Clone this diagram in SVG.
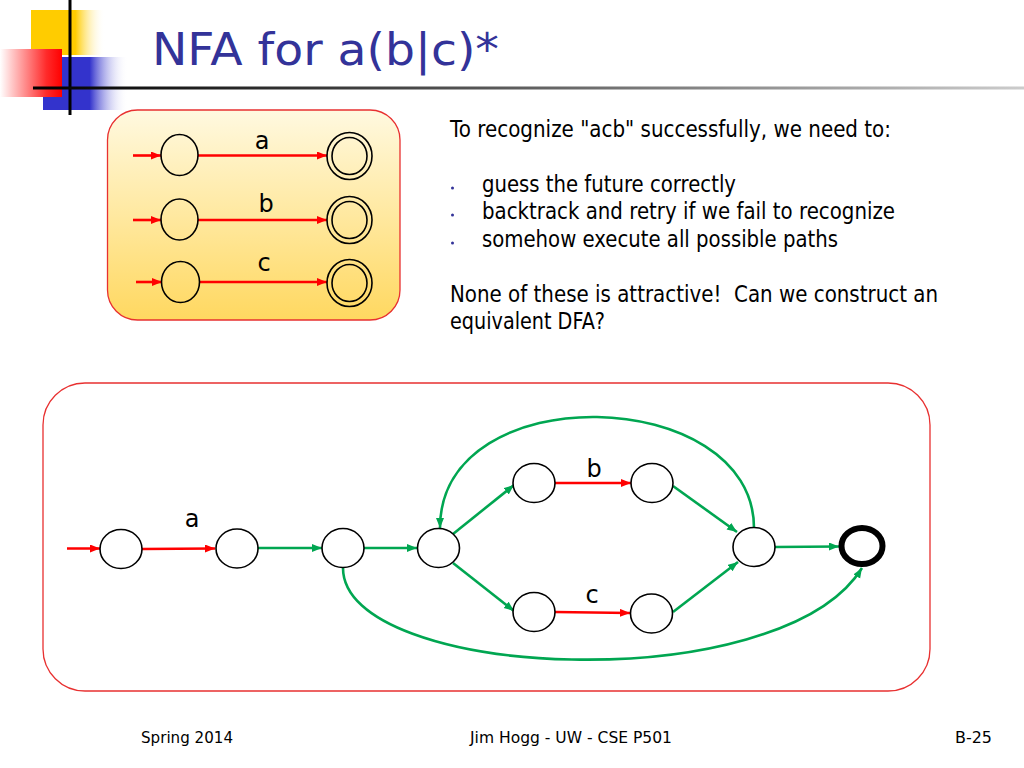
<svg xmlns="http://www.w3.org/2000/svg" width="1024" height="768" viewBox="0 0 1024 768">
<defs>
<linearGradient id="gYel" x1="31" y1="0" x2="105" y2="0" gradientUnits="userSpaceOnUse">
<stop offset="0" stop-color="#FFCC00"/><stop offset="0.6" stop-color="#FFCC00"/><stop offset="1" stop-color="#FFFFFF" stop-opacity="0"/>
</linearGradient>
<linearGradient id="gRed" x1="0" y1="0" x2="62" y2="0" gradientUnits="userSpaceOnUse">
<stop offset="0" stop-color="#FFFFFF"/><stop offset="0.75" stop-color="#FF2A2A"/><stop offset="1" stop-color="#FF0000"/>
</linearGradient>
<linearGradient id="gBlue" x1="43" y1="0" x2="128" y2="0" gradientUnits="userSpaceOnUse">
<stop offset="0" stop-color="#3333CC"/><stop offset="0.55" stop-color="#3333CC"/><stop offset="1" stop-color="#FFFFFF" stop-opacity="0"/>
</linearGradient>
<linearGradient id="gLine" x1="33" y1="0" x2="1024" y2="0" gradientUnits="userSpaceOnUse">
<stop offset="0" stop-color="#000000"/><stop offset="0.45" stop-color="#555555"/><stop offset="1" stop-color="#CCCCCC"/>
</linearGradient>
<linearGradient id="gBox" x1="0" y1="0" x2="0" y2="1">
<stop offset="0" stop-color="#FFF9E0"/><stop offset="1" stop-color="#FFD860"/>
</linearGradient>
<marker id="ar" markerUnits="userSpaceOnUse" markerWidth="11" markerHeight="9" refX="10" refY="4" orient="auto">
<path d="M0,0 L10,4 L0,8 z" fill="#FF0000"/>
</marker>
<marker id="ag" markerUnits="userSpaceOnUse" markerWidth="11" markerHeight="9" refX="10" refY="4" orient="auto">
<path d="M0,0 L10,4 L0,8 z" fill="#00A651"/>
</marker>
<style>
.st{fill:none;stroke:#000;stroke-width:1.6}
.stw{fill:#fff;stroke:#000;stroke-width:1.6}
.r{fill:none;stroke:#FF0000;stroke-width:2.6;marker-end:url(#ar)}
.g{fill:none;stroke:#00A651;stroke-width:2.6;marker-end:url(#ag)}
.lbl{font-family:"DejaVu Sans","Liberation Sans",sans-serif;font-size:24px;fill:#000;text-anchor:middle}
.body{font-family:"DejaVu Sans","Liberation Sans",sans-serif;font-size:23px;fill:#000}
.foot{font-family:"DejaVu Sans","Liberation Sans",sans-serif;font-size:15.5px;fill:#000}
</style>
</defs>
<rect width="1024" height="768" fill="#fff"/>

<g id="decoration">
<rect x="31" y="10" width="74" height="45" fill="url(#gYel)"/>
<rect x="43" y="57" width="85" height="53" fill="url(#gBlue)"/>
<rect x="0" y="49" width="62" height="48" fill="url(#gRed)"/>
<line x1="70" y1="0" x2="70" y2="115" stroke="#000" stroke-width="3"/>
<line x1="33" y1="88" x2="1024" y2="88" stroke="url(#gLine)" stroke-width="3"/>
</g>
<text id="title" x="152" y="65" font-family="DejaVu Sans, Liberation Sans, sans-serif" font-size="45" fill="#333399" textLength="347" lengthAdjust="spacingAndGlyphs">NFA for a(b|c)*</text>

<g id="nfa-box">
<rect x="107.5" y="110" width="292.5" height="210" rx="30" ry="30" fill="url(#gBox)" stroke="#E83030" stroke-width="1.3"/>
</g>
<g id="top-connectors">
<line class="r" x1="133" y1="155.5" x2="161" y2="155.5"/>
<line class="r" x1="198" y1="155.5" x2="327" y2="155.5"/>
<line class="r" x1="133" y1="220" x2="161" y2="220"/>
<line class="r" x1="198" y1="220" x2="327" y2="220"/>
<line class="r" x1="136" y1="282" x2="162" y2="282"/>
<line class="r" x1="199" y1="282" x2="327" y2="282"/>
</g>
<g id="top-a-start"><ellipse class="st" cx="179.5" cy="155" rx="18.5" ry="20.5"/></g>
<g id="top-a-end"><ellipse class="st" cx="349.5" cy="156" rx="22.5" ry="23.5"/><ellipse class="st" cx="349.5" cy="156" rx="17.5" ry="18.5"/></g>
<g id="top-b-start"><ellipse class="st" cx="179.5" cy="219.5" rx="18.5" ry="20.5"/></g>
<g id="top-b-end"><ellipse class="st" cx="349.5" cy="220" rx="22.5" ry="23.5"/><ellipse class="st" cx="349.5" cy="220" rx="17.5" ry="18.5"/></g>
<g id="top-c-start"><ellipse class="st" cx="180.5" cy="282" rx="19" ry="20.5"/></g>
<g id="top-c-end"><ellipse class="st" cx="349.5" cy="283" rx="22.5" ry="23.5"/><ellipse class="st" cx="349.5" cy="283" rx="17.5" ry="18.5"/></g>
<text class="lbl" x="262" y="149">a</text>
<text class="lbl" x="266" y="212">b</text>
<text class="lbl" x="264" y="271">c</text>

<g id="explanation">
<text class="body" x="450" y="137" textLength="441" lengthAdjust="spacingAndGlyphs">To recognize "acb" successfully, we need to:</text>
<circle cx="452.5" cy="188" r="1.5" fill="#333399"/>
<circle cx="452.5" cy="215" r="1.5" fill="#333399"/>
<circle cx="452.5" cy="243" r="1.5" fill="#333399"/>
<text class="body" x="482" y="192" textLength="254" lengthAdjust="spacingAndGlyphs">guess the future correctly</text>
<text class="body" x="482" y="219" textLength="413" lengthAdjust="spacingAndGlyphs">backtrack and retry if we fail to recognize</text>
<text class="body" x="482" y="247" textLength="356" lengthAdjust="spacingAndGlyphs">somehow execute all possible paths</text>
<text class="body" x="450" y="302" textLength="488" lengthAdjust="spacingAndGlyphs" xml:space="preserve">None of these is attractive!  Can we construct an</text>
<text class="body" x="450" y="329" textLength="155" lengthAdjust="spacingAndGlyphs">equivalent DFA?</text>
</g>

<g id="dfa-box">
<rect x="43" y="383" width="887" height="308" rx="42" ry="42" fill="#fff" stroke="#E83030" stroke-width="1.3"/>
</g>

<g id="connectors">
<line class="r" x1="67" y1="548.5" x2="100" y2="548.5"/>
<line class="r" x1="142" y1="549" x2="215" y2="548.5"/>
<line class="g" x1="258" y1="548" x2="322" y2="548"/>
<line class="g" x1="364" y1="548" x2="417" y2="548"/>
<line class="g" x1="453" y1="534" x2="514" y2="485"/>
<line class="g" x1="453" y1="563" x2="514" y2="611"/>
<line class="r" x1="555" y1="483" x2="631" y2="483"/>
<line class="r" x1="555" y1="612" x2="630" y2="613"/>
<line class="g" x1="673" y1="486" x2="737" y2="532"/>
<line class="g" x1="673" y1="612" x2="738" y2="562"/>
<line class="g" x1="775" y1="547" x2="839" y2="546.5"/>
<path class="g" d="M754,528 C754,385 440,375 440,528"/>
<path class="g" d="M343,568 C343,680 780,700 862,568"/>
</g>
<text class="lbl" x="192" y="527">a</text>
<text class="lbl" x="594" y="477">b</text>
<text class="lbl" x="592" y="603">c</text>

<g id="s1"><ellipse class="stw" cx="121" cy="549" rx="21" ry="19.5"/></g>
<g id="s2"><ellipse class="stw" cx="237" cy="548.5" rx="21" ry="19.5"/></g>
<g id="s3"><ellipse class="stw" cx="343" cy="548" rx="21" ry="19.5"/></g>
<g id="s4"><ellipse class="stw" cx="438.5" cy="548" rx="21" ry="19.5"/></g>
<g id="s5"><ellipse class="stw" cx="534" cy="483" rx="21" ry="19.5"/></g>
<g id="s6"><ellipse class="stw" cx="652" cy="483" rx="21" ry="19.5"/></g>
<g id="s7"><ellipse class="stw" cx="534" cy="612" rx="21" ry="19.5"/></g>
<g id="s8"><ellipse class="stw" cx="651.5" cy="613.5" rx="21" ry="19.5"/></g>
<g id="s9"><ellipse class="stw" cx="754" cy="547" rx="21" ry="19.5"/></g>
<g id="s10"><ellipse cx="862" cy="546" rx="20.5" ry="18" fill="#fff" stroke="#000" stroke-width="6"/></g>

<g id="footer">
<text class="foot" x="141" y="743" textLength="92" lengthAdjust="spacingAndGlyphs">Spring 2014</text>
<text class="foot" x="470" y="743" textLength="202" lengthAdjust="spacingAndGlyphs">Jim Hogg - UW - CSE P501</text>
<text class="foot" x="955" y="743" textLength="37" lengthAdjust="spacingAndGlyphs">B-25</text>
</g>
</svg>
